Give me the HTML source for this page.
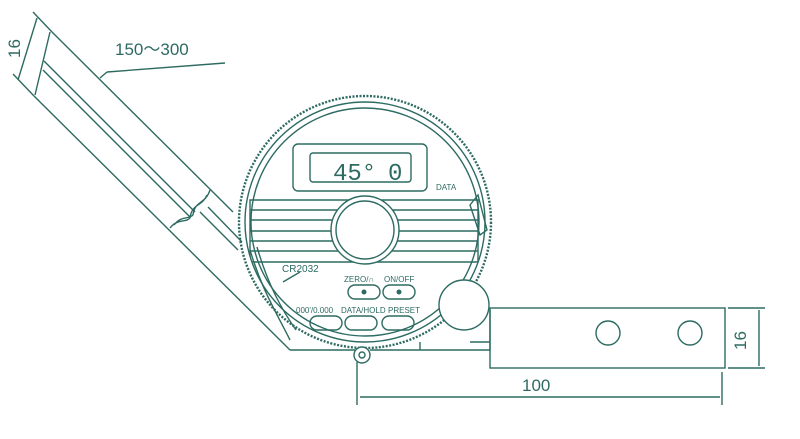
<!DOCTYPE html>
<html><head><style>html,body{margin:0;padding:0;background:#fff}svg{display:block}</style></head><body>
<svg width="800" height="439" viewBox="0 0 800 439" xmlns="http://www.w3.org/2000/svg" font-family="Liberation Sans, sans-serif">
<defs><clipPath id="c"><circle cx="365" cy="222" r="120"/></clipPath></defs>
<g fill="none" stroke="#2d6b62" stroke-width="1.4">
<!-- blade -->
<line x1="33" y1="12" x2="52" y2="32"/>
<line x1="13" y1="74" x2="34" y2="96"/>
<line x1="52" y1="32" x2="233" y2="212"/>
<line x1="34" y1="96" x2="290" y2="350"/>
<line x1="50" y1="32" x2="35" y2="95"/>
<line x1="44" y1="61" x2="195" y2="212"/>
<line x1="43" y1="70" x2="190" y2="217"/>
<line x1="208" y1="207" x2="242" y2="242"/>
<line x1="200" y1="212" x2="238" y2="250"/>
<path d="M210 190 C205 205,195 200,193 215 M207 195 C202 207,192 203,190 218 M174 225 C182 215,188 220,193 215 M170 228 C178 218,186 223,190 218"/>
<line x1="107" y1="72" x2="225" y2="63"/>
<line x1="107" y1="72" x2="100" y2="78"/>
<line x1="37" y1="18" x2="18" y2="80"/>
<!-- dial -->
<circle cx="365" cy="222" r="126" stroke-dasharray="2 1.5" stroke-width="2.4"/>
<circle cx="365" cy="222" r="120"/>
<circle cx="365" cy="222" r="114"/>
<rect x="293" y="144" width="134" height="47" rx="5"/>
<rect x="310" y="153" width="101" height="29" rx="3"/>
<g clip-path="url(#c)"><path d="M250 200 H478 V262 H250 Z M250 210 H478 M250 220 H478 M250 231 H478 M250 241 H478 M250 251 H478"/></g>
<circle cx="365" cy="230" r="34" fill="#fff"/>
<circle cx="365" cy="230" r="29"/>
<path d="M250 250 C262 290,275 310,290 340 M257 247 C268 285,282 310,296 330"/>
<line x1="283" y1="282" x2="300" y2="272"/>
<path d="M470 205 L478 195 L487 230 L480 235 Z"/>
<rect x="348" y="285" width="32" height="14" rx="7"/><rect x="383" y="285" width="32" height="14" rx="7"/>
<rect x="310" y="316" width="32" height="14" rx="7"/><rect x="345" y="316" width="32" height="14" rx="7"/><rect x="382" y="316" width="32" height="14" rx="7"/>
<circle cx="464" cy="305" r="25" fill="#fff"/>
<path d="M290 350 H355 M370 350 H490 V310 M420 350 V342 M470 342 H490"/>
<circle cx="362" cy="355" r="8" fill="#fff"/><circle cx="362" cy="355" r="3"/>
<rect x="490" y="308" width="235" height="60"/>
<circle cx="608" cy="333" r="12"/><circle cx="690" cy="333" r="12"/>
<path d="M728 308 H765 M728 368 H765 M759 310 V366 M357 362 V405 M722 372 V405 M360 397 H720"/>
</g>
<g fill="#2d6b62">
<circle cx="364" cy="292" r="2.5"/><circle cx="399" cy="292" r="2.5"/>
<text x="115" y="55" font-size="17">150～300</text>
<text x="0" y="0" font-size="17" transform="translate(20 58) rotate(-90)">16</text>
<text x="0" y="0" font-size="17" transform="translate(746 350) rotate(-90)">16</text>
<text x="522" y="391" font-size="17">100</text>
<text x="333" y="180" font-size="24" font-family="Liberation Mono, monospace">45°</text>
<text x="388" y="180" font-size="24" font-family="Liberation Mono, monospace">0</text>
<text x="436" y="190" font-size="8">DATA</text>
<text x="282" y="272" font-size="10">CR2032</text>
<text x="344" y="282" font-size="8">ZERO/∩</text><text x="384" y="282" font-size="8">ON/OFF</text>
<text x="296" y="313" font-size="8">000'/0.000</text><text x="341" y="313" font-size="8">DATA/HOLD</text><text x="388" y="313" font-size="8">PRESET</text>
</g>
</svg>
</body></html>
